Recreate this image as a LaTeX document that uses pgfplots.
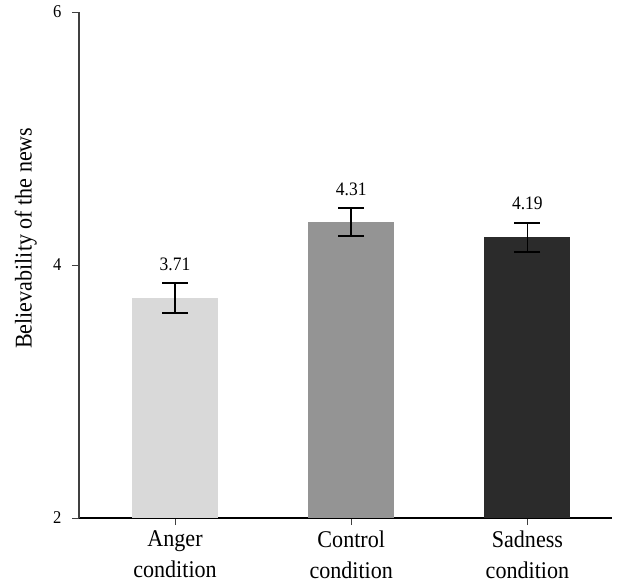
\documentclass[border=0pt]{standalone}
\usepackage{pgfplots}
\pgfplotsset{compat=1.18}
\usepackage{fontspec}
\setmainfont{Liberation Serif}[FakeStretch=0.92]
\definecolor{cA}{HTML}{D9D9D9}
\definecolor{cB}{HTML}{949494}
\definecolor{cC}{HTML}{2B2B2B}
\begin{document}
\begin{tikzpicture}
\begin{axis}[
 width=533pt, height=506pt, scale only axis,
 ymin=2, ymax=6, ytick={2,4,6},
 xmin=-0.545, xmax=2.48,
 xtick={0,1,2},
 xticklabels={Anger\\condition, Control\\condition, Sadness\\condition},
 xticklabel style={align=center, font=\fontsize{24}{31}\selectfont, yshift=-2pt},
 yticklabel style={font=\fontsize{18}{20}\selectfont, xshift=-7pt},
 /pgf/number format/assume math mode=true,
 axis x line*=bottom, axis y line*=left,
 x axis line style={line width=1.8pt, black, -},
 y axis line style={line width=1.3pt, black!75, -},
 tick align=outside, major tick length=7pt,
 tick style={line width=1pt, black!75},
 ylabel={Believability of the news},
 ylabel style={font=\fontsize{24}{28}\selectfont, at={(axis description cs:-0.1,0.553)}, anchor=center},
 clip=false,
]
\addplot[ybar, bar width=86pt, fill=cA, draw=none,
  error bars/.cd, y dir=both, y explicit,
  error bar style={line width=1.8pt, black},
  error mark options={rotate=90, mark size=13pt, line width=1.8pt, black}]
  coordinates {(0,3.74) +- (0,0.119)};
\addplot[ybar, bar width=86pt, fill=cB, draw=none,
  error bars/.cd, y dir=both, y explicit,
  error bar style={line width=1.8pt, black},
  error mark options={rotate=90, mark size=13pt, line width=1.8pt, black}]
  coordinates {(1,4.34) +- (0,0.11)};
\addplot[ybar, bar width=86pt, fill=cC, draw=none,
  error bars/.cd, y dir=both, y explicit,
  error bar style={line width=1.8pt, black},
  error mark options={rotate=90, mark size=13pt, line width=1.8pt, black}]
  coordinates {(2,4.22) +- (0,0.115)};
\addplot[draw=none, mark=none, nodes near coords, point meta=explicit symbolic,
  nodes near coords style={anchor=south, yshift=9pt, font=\fontsize{19}{21}\selectfont, text=black}]
  table[meta=lab] {
x y lab
0 3.859 3.71
1 4.45 4.31
2 4.335 4.19
};
\end{axis}
\pgfresetboundingbox
\path[use as bounding box] ([xshift=-79pt,yshift=-64pt]current axis.south west) rectangle ([xshift=11pt,yshift=12pt]current axis.north east);
\end{tikzpicture}
\end{document}
